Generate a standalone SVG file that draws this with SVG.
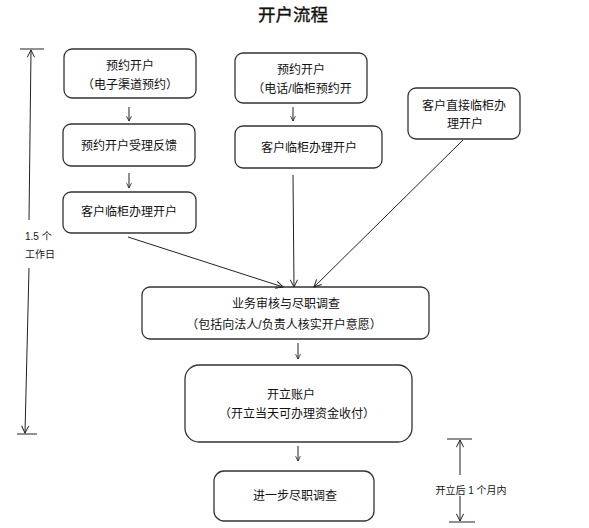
<svg xmlns="http://www.w3.org/2000/svg" width="589" height="528" viewBox="0 0 589 528">
<style>
.box{fill:#fff;stroke:#333;stroke-width:1.3}
.t{font-family:"Liberation Sans","Noto Sans CJK SC",sans-serif;font-size:12px;fill:#111;text-anchor:middle}
.s{font-family:"Liberation Sans","Noto Sans CJK SC",sans-serif;font-size:10px;fill:#111}
.ln{stroke:#222;stroke-width:1;fill:none}
</style>
<defs>
<marker id="ah" viewBox="0 0 10 10" refX="9" refY="5" markerWidth="9" markerHeight="9" markerUnits="userSpaceOnUse" orient="auto">
<path d="M1,1 L9,5 L1,9" fill="none" stroke="#222" stroke-width="1.1"/>
</marker>
<marker id="sm" viewBox="0 0 10 10" refX="9" refY="5" markerWidth="6" markerHeight="6" markerUnits="userSpaceOnUse" orient="auto">
<path d="M1,1 L9,5 L1,9" fill="none" stroke="#222" stroke-width="1.4"/>
</marker>
</defs>
<rect width="589" height="528" fill="#fff"/>
<text x="293" y="21" font-family="'Noto Sans CJK SC',sans-serif" font-size="17.5" font-weight="400" fill="#111" stroke="#111" stroke-width="0.35" text-anchor="middle">开户流程</text>

<g id="n1"><rect class="box" x="64" y="49" width="132" height="49" rx="8"/><text class="t" x="130" y="70">预约开户</text><text class="t" x="130" y="89">（电子渠道预约）</text></g>
<g id="n2"><rect class="box" x="63" y="124" width="132" height="42" rx="8"/><text class="t" x="129" y="150">预约开户受理反馈</text></g>
<g id="n3"><rect class="box" x="63" y="192" width="133" height="41" rx="8"/><text class="t" x="129" y="216">客户临柜办理开户</text></g>
<g id="n4"><rect class="box" x="235" y="53" width="132" height="50" rx="8"/><text class="t" x="301" y="74">预约开户</text><text class="t" x="302" y="93">（电话/临柜预约开</text></g>
<g id="n5"><rect class="box" x="235" y="126" width="147" height="42" rx="8"/><text class="t" x="309" y="152">客户临柜办理开户</text></g>
<g id="n6"><rect class="box" x="408" y="88" width="112" height="51" rx="8"/><text class="t" x="464" y="110">客户直接临柜办</text><text class="t" x="465" y="128">理开户</text></g>
<g id="n7"><rect class="box" x="142" y="287" width="287" height="52" rx="8"/><text class="t" x="286" y="308">业务审核与尽职调查</text><text class="t" x="284" y="329">（包括向法人/负责人核实开户意愿）</text></g>
<g id="n8"><rect class="box" x="185" y="365" width="227" height="77" rx="14"/><text class="t" x="291" y="399">开立账户</text><text class="t" x="297" y="418">（开立当天可办理资金收付）</text></g>
<g id="n9"><rect class="box" x="214" y="471" width="160" height="50" rx="10"/><text class="t" x="295" y="500">进一步尽职调查</text></g>

<g id="dims">
<line class="ln" x1="20" y1="49" x2="44" y2="49"/>
<line class="ln" x1="29" y1="220" x2="31" y2="50" marker-end="url(#ah)"/>
<line class="ln" x1="29" y1="268" x2="25" y2="433" marker-end="url(#ah)"/>
<line class="ln" x1="17" y1="434" x2="37" y2="434"/>
<text class="s" x="25" y="240">1.5 个</text>
<text class="s" x="25" y="258">工作日</text>
<line class="ln" x1="447" y1="439" x2="472" y2="439"/>
<line class="ln" x1="460" y1="475" x2="460" y2="440" marker-end="url(#ah)"/>
<line class="ln" x1="460" y1="496" x2="460" y2="521" marker-end="url(#ah)"/>
<line class="ln" x1="449" y1="522" x2="475" y2="522"/>
<text class="s" x="471" y="494" text-anchor="middle">开立后 1 个月内</text>
</g>

<g id="connectors">
<line class="ln" x1="129" y1="107" x2="129" y2="121" marker-end="url(#sm)"/>
<line class="ln" x1="129" y1="173" x2="129" y2="188" marker-end="url(#sm)"/>
<line class="ln" x1="293" y1="107" x2="293" y2="121" marker-end="url(#sm)"/>
<line class="ln" x1="128" y1="237" x2="283" y2="287" marker-end="url(#ah)"/>
<line class="ln" x1="293" y1="175" x2="294" y2="287" marker-end="url(#ah)"/>
<line class="ln" x1="463" y1="140" x2="314" y2="287" marker-end="url(#ah)"/>
<line class="ln" x1="298" y1="343" x2="298" y2="359" marker-end="url(#sm)"/>
<line class="ln" x1="298" y1="446" x2="298" y2="461" marker-end="url(#sm)"/>
</g>
</svg>
